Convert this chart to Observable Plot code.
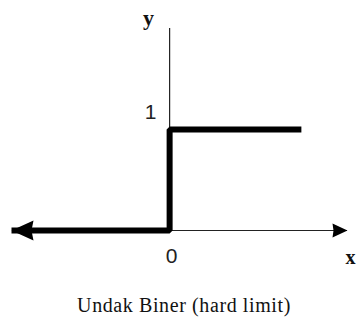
<!DOCTYPE html>
<html>
<head>
<meta charset="utf-8">
<script src="https://cdn.jsdelivr.net/npm/d3@7"></script>
<script src="https://cdn.jsdelivr.net/npm/@observablehq/plot@0.6"></script>
<style>
  html, body { margin: 0; padding: 0; background: #fff; }
  #chart { width: 358px; }
  #chart svg { display: block; }
  #caption { margin-top: 3px; width: 348px; padding-left: 10px; text-align: center;
    font-family: "Liberation Serif", "DejaVu Serif", serif; font-size: 20px; color: #111; letter-spacing: 0.6px; }
</style>
</head>
<body>
<div id="chart"></div>
<script>
// Step function (hard limit): y = 0 for x < 0, y = 1 for x >= 0
const stepX = [-1.2, 0, 0, 1];
const stepY = [0, 0, 1, 1];
// Axis extents
const xAxisExtent = [0, 1.35];
const yAxisExtent = [0, 2];
// Labels
const tickLabels = ["0", "1"];
const axisNames = ["x", "y"];
const captionText = "Undak Biner (hard limit)";

const step = stepX.map((x, i) => ({x, y: stepY[i]}));

// filled arrowhead symbols (tip at origin)
const leftHead = {
  draw(ctx) {
    ctx.moveTo(0, 0);
    ctx.lineTo(22, -10);
    ctx.lineTo(20, 0);
    ctx.lineTo(22, 10);
    ctx.closePath();
  }
};
const rightHead = {
  draw(ctx) {
    ctx.moveTo(0, 0);
    ctx.lineTo(-15, -7);
    ctx.lineTo(-14, 0);
    ctx.lineTo(-15, 7);
    ctx.closePath();
  }
};

const chart = Plot.plot({
  width: 358,
  height: 291,
  x: {domain: [-1.2, 1.35], range: [11, 347], axis: null},
  y: {domain: [0, 2], range: [230, 28], axis: null},
  marks: [
    // thin axes
    Plot.ruleY([0], {x1: xAxisExtent[0], x2: xAxisExtent[1], stroke: "#222", strokeWidth: 1.2}),
    Plot.ruleX([0], {y1: yAxisExtent[0], y2: yAxisExtent[1], stroke: "#222", strokeWidth: 1.2}),
    // thick step line
    Plot.line(step, {x: "x", y: "y", stroke: "#000", strokeWidth: 6, strokeLinejoin: "miter", strokeLinecap: "butt"}),
    // arrowheads
    Plot.dot([{x: stepX[0], y: 0}], {x: "x", y: "y", symbol: leftHead, fill: "#000", stroke: "none"}),
    Plot.dot([{x: xAxisExtent[1], y: 0}], {x: "x", y: "y", symbol: rightHead, fill: "#000", stroke: "none"}),
    // tick labels
    Plot.text([tickLabels[0]], {x: 0, y: 0, text: d => d, dx: 2, dy: 26, fontSize: 21, fontFamily: "Liberation Sans, sans-serif", fill: "#222", fontWeight: 300}),
    Plot.text([tickLabels[1]], {x: 0, y: 1, text: d => d, dx: -19, dy: -17, fontSize: 21, fontFamily: "Liberation Sans, sans-serif", fill: "#222", fontWeight: 300}),
    // axis names
    Plot.text([axisNames[0]], {x: xAxisExtent[1], y: 0, text: d => d, dx: 3, dy: 27, fontSize: 20, fontWeight: "bold", fontFamily: "Liberation Serif, serif", fill: "#111"}),
    Plot.text([axisNames[1]], {x: 0, y: yAxisExtent[1], text: d => d, dx: -21, dy: -11, fontSize: 22, fontWeight: "bold", fontFamily: "Liberation Serif, serif", fill: "#111"})
  ]
});
const host = document.getElementById("chart");
host.appendChild(chart);
const cap = document.createElement("div");
cap.id = "caption";
cap.textContent = captionText;
host.appendChild(cap);
</script>
</body>
</html>
